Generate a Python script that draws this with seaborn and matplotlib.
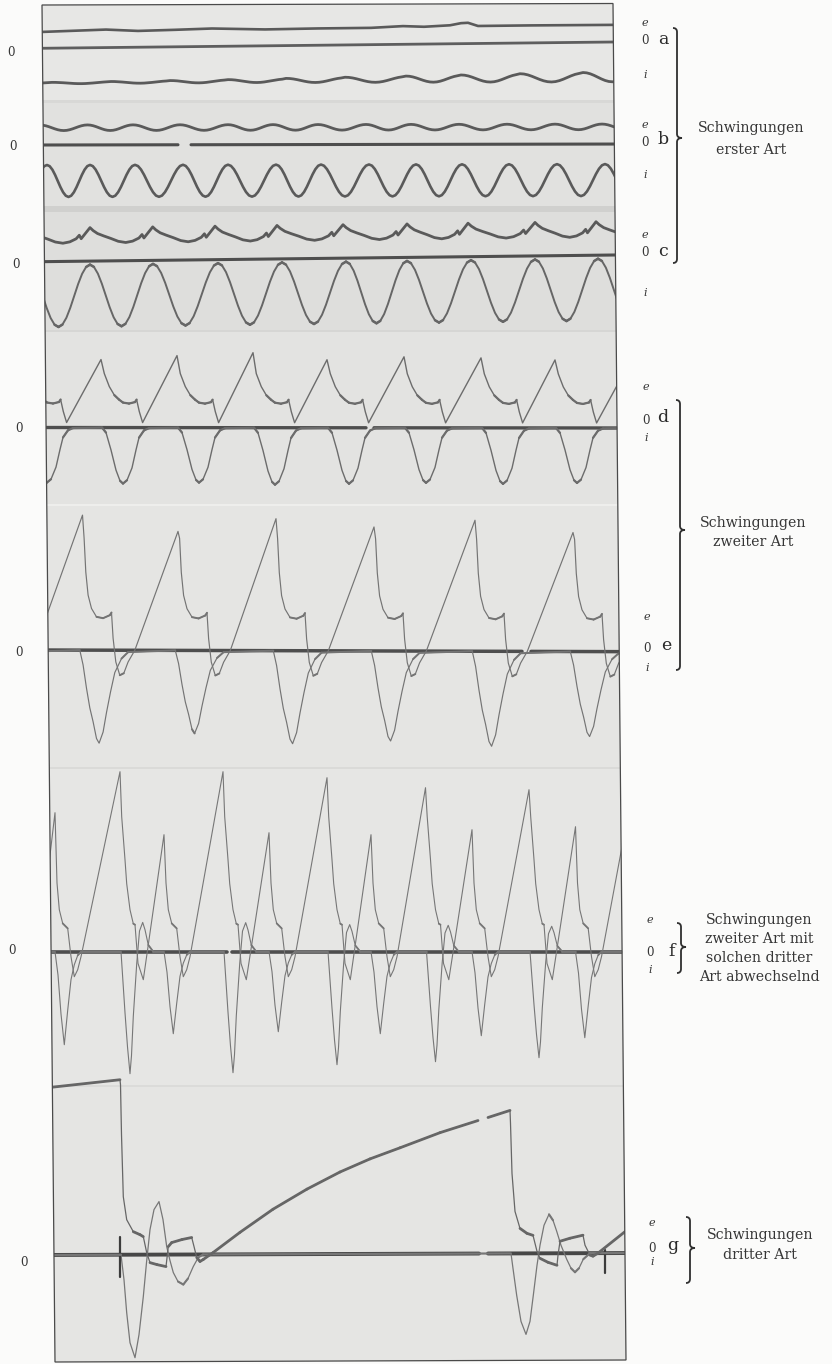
import numpy as np
import pandas as pd
import matplotlib
matplotlib.use("Agg")
import matplotlib.pyplot as plt
from matplotlib.patches import Polygon, PathPatch
from matplotlib.path import Path
from matplotlib.collections import LineCollection
import seaborn as sns

sns.set_theme(style="white")
plt.rcParams["font.family"] = ["DejaVu Serif", "DejaVu Sans"]

# ------------------------------------------------------------------
# Oscillograms a-g: voltage trace (e), zero line (0), current trace (i).
# Deflections are measured upward from each strip's zero line.
# ------------------------------------------------------------------

# sinusoidal cycle profile (peak -> trough -> peak), 16 phases
SINE_F = [k / 16 for k in range(16)]
SINE_V = [1.0, 0.924, 0.707, 0.383, 0.0, -0.383, -0.707, -0.924,
          -1.0, -0.924, -0.707, -0.383, 0.0, 0.383, 0.707, 0.924]

# --- a ---
A_ZERO_X = [40, 640]
A_ZERO_Y = [48.3, 41.7]
A_E_X = [40, 106, 138, 175, 212, 265, 318, 371, 403, 424, 450, 461, 468, 478, 530, 640]
A_E_V = [16.3, 18.0, 16.3, 17.0, 17.9, 16.4, 16.8, 16.8, 18.2, 17.3, 18.5, 20.5, 20.8, 17.5, 17.5, 17.0]
A_I_PEAKS = [-7, 52, 111, 170, 228, 286, 345, 406, 461, 520, 583, 642]
A_I_AMP = [0.6, 0.8, 1.0, 1.3, 1.6, 2.2, 2.7, 3.2, 3.7, 4.3, 4.8, 5.0]
A_I_MID = -35.0

# --- b ---
B_ZERO_X = [40, 640]
B_ZERO_Y = [145.0, 144.0]
B_GAPS = [(178, 191)]
B_E_PEAKS = [40, 87.5, 133, 180, 228, 273, 318, 366, 411, 459, 507, 555, 602, 650]
B_E_AMP = 2.8
B_E_MID = 17.2
B_I_PEAKS = [2, 47, 90, 135, 183, 228, 276, 321, 369, 416, 462, 509, 557, 605, 652]
B_I_AMP = 16.0
B_I_MID = -36.0

# --- c ---
C_ZERO_X = [40, 640]
C_ZERO_Y = [261.7, 254.7]
C_E_PEAKS = [27, 90, 152.7, 215, 277, 343, 407, 468, 535, 596, 660]
C_E_F = [0, 0.05, 0.12, 0.22, 0.33, 0.45, 0.57, 0.68, 0.78, 0.83, 0.86, 0.93]
C_E_V = [33.5, 30.5, 27.5, 25.0, 22.5, 19.5, 18.2, 19.5, 22.5, 26.0, 22.5, 28.0]
C_I_PEAKS = [27, 90, 153, 218, 282, 346, 407, 471, 535, 598, 661]
C_I_AMP = 31.0
C_I_MID = -34.5

# --- d ---
D_ZERO_X = [40, 640]
D_ZERO_Y = [427.5, 428.0]
D_GAPS = [(366, 374)]
D_PEAKS = [25, 101, 177, 253, 327, 404, 481, 555, 631]
D_E_H = [68, 68, 72, 75, 68, 71, 70, 68, 68]
D_E_DX = [3.3, 8.3, 13.3, 18, 22, 28, 34, 35.6, 38.3, 41.6]
D_E_DV = [54, 41, 32.5, 28, 25, 24, 25.5, 28, 16, 5]
D_I_DX = [1, 5, 10, 15, 19, 22, 26, 31, 35, 38, 43, 48]
D_I_DV = [0, -0.09, -0.4, -0.76, -0.95, -1, -0.94, -0.72, -0.4, -0.18, -0.05, -0.01]
D_I_DEPTH = [55, 56, 55, 57, 56, 55, 56, 55, 55]

# --- e ---
E_ZERO_X = [40, 640]
E_ZERO_Y = [650.0, 651.7]
E_GAPS = [(522, 531)]
E_PEAKS = [-18, 82.5, 178, 276, 374, 475, 573, 671]
E_E_H = [130, 135, 119, 132, 124, 131, 119, 125]
E_E_DX = [1.6, 3.3, 5.6, 9, 14, 20.6, 27.3, 29, 30.6, 33.3, 37.3, 41.3, 45.6, 52.3]
E_E_DV = [112, 78, 55, 41.7, 33.3, 32, 35, 37.7, 12, -11.7, -25, -23, -11.7, 0]
E_I_DX = [-2.7, 0.6, 4, 7.3, 10.6, 14, 16.6, 20.6, 24, 28, 32.3, 39, 45.6]
E_I_DV = [0, -0.16, -0.41, -0.62, -0.77, -0.95, -1, -0.88, -0.67, -0.45, -0.24, -0.09, -0.02]
E_I_DEPTH = [90, 93, 83, 93, 90, 95, 85, 90]

# --- f : second-kind (b) and third-kind (s) cycles alternating ---
F_ZERO_X = [40, 640]
F_ZERO_Y = [951.7, 951.7]
F_GAPS = [(227, 232)]
F_PEAKS = [12, 55, 120, 164, 223, 269, 327, 371, 425.5, 472, 529, 575.5, 636]
F_KIND = ["b", "s", "b", "s", "b", "s", "b", "s", "b", "s", "b", "s", "b"]
F_E_H = [180, 139, 180, 117, 180, 119, 174, 117, 164, 122, 162, 125, 180]
F_I_DEPTH = [120, 93, 122, 82, 121, 80, 113, 82, 110, 84, 106, 86, 110]
F_BIG_DX = [1.7, 5, 6.7, 10, 13.3, 15, 18, 23.3]
F_BIG_DV = [135, 92, 68, 42, 28, 27, -11.7, -28]
F_SMALL_DX = [2, 4.3, 7.7, 12.7, 16, 19.3, 22.7, 26]
F_SMALL_DV = [68.7, 42, 28.3, 23.3, -5, -25, -18, -5]
F_BIG_I_DX = [1, 3, 5, 7.5, 10, 11.5, 13.3, 16.7, 19.5, 22.7, 25, 28.3, 33.3]
F_BIG_I_DV = [0, -0.25, -0.5, -0.78, -1, -0.85, -0.53, -0.1, 0.17, 0.24, 0.18, 0.055, 0]
F_SMALL_I_DX = [0, 3, 6, 9.3, 12.7, 16, 19.3, 22.7, 26]
F_SMALL_I_DV = [0, -0.25, -0.67, -1, -0.63, -0.3, -0.14, -0.04, 0]

# --- g : third-kind oscillations ---
G_ZERO_X = [40, 640]
G_ZERO_Y = [1255.0, 1253.0]
G_GAPS = [(479, 488)]
G_E_X = [45, 120, 120.5, 121.5, 123.3, 126.7, 133.3, 140, 143.3, 146.7, 150, 157, 166,
         168.3, 171.7, 182, 191.7, 194, 196.7, 200, 203.3, 213.3, 240, 273, 307, 340,
         370, 400, 440, 478, 488, 510, 510.5, 512, 515, 520, 527, 533, 535, 537, 540,
         548, 557, 558, 560, 570, 583, 585, 588, 590, 593, 598, 627, 645]
G_E_V = [167, 175, 170, 120, 58, 35, 23, 20, 18, 2, -8, -10, -12,
         8, 12, 15, 17, 8, -3, -7, -5, 2, 22, 45, 65, 82,
         95, 106, 121, 133, 136, 143, 130, 80, 42, 25, 20, 18, 10, 2, -5,
         -9, -12, -2, 12, 15, 18, 8, 2, -2, -3, 0, 23, 32]
G_I_X = [45, 120, 121, 124, 126.7, 130, 135, 139, 143.3, 146.5, 150, 154, 159, 163, 166.7,
         170, 173.3, 178, 183.3, 188, 193.3, 198.3, 203, 511, 513, 516.7, 521, 526, 530,
         533.3, 537, 540, 544, 549, 553, 556.7, 561, 566.7, 571, 575, 579, 583.3, 590, 645]
G_I_V = [0, 0, 0, -25, -58, -88, -103, -80, -42, -8, 25, 45, 53, 35, 8,
         -6, -18, -27, -30, -24, -12, -3, 0, 0, -15, -42, -68, -81, -68,
         -42, -12, 8, 28, 39, 33, 22, 8, -6, -15, -19, -15, -6, 0, 0]
G_TICK_X = [120, 605]
G_TICK_TOP = [18, 3]
G_TICK_BOT = [-22, -20]

# --- labels ---
LETTERS = ["a", "b", "c", "d", "e", "f", "g"]
LEFT_ZERO_X = [11, 13, 16, 18.6, 18.6, 12, 24]
LEFT_ZERO_Y = [52, 147, 265, 428, 653, 950, 1262]
RIGHT_X = [645, 645, 645, 646, 647, 650, 652]
RIGHT_E_Y = [23, 125, 235, 387, 617, 920, 1223]
RIGHT_0_Y = [41, 142, 253, 420, 648, 953, 1248]
RIGHT_I_Y = [75, 175, 293, 438, 668, 970, 1262]
LETTER_X = [663, 663, 663, 663, 666, 672, 673]

GROUP_LINES = [["Schwingungen", "erster Art"],
               ["Schwingungen", "zweiter Art"],
               ["Schwingungen", "zweiter Art mit", "solchen dritter", "Art abwechselnd"],
               ["Schwingungen", "dritter Art"]]
GROUP_TEXT_X = [751, 753, 759, 760]
GROUP_TEXT_Y = [[128, 150], [523, 542], [920, 939, 958, 977], [1235, 1255]]
BRACE_X = [677, 680, 681, 690]
BRACE_TOP = [28, 400, 923, 1217]
BRACE_BOT = [263, 670, 973, 1283]
BRACE_TIP = [138, 530, 947, 1248]

# photographic plate: corners and strip boundaries
PLATE = [(42, 5), (613, 3.5), (626, 1360), (55, 1362)]
STRIP_EDGES = [0, 100, 207, 330, 505, 768, 1085, 1364]
STRIP_SHADES = ["#e7e7e5", "#e1e1df", "#dededc", "#e3e3e1", "#e5e5e3", "#e6e6e4", "#e5e5e3"]


# ------------------------------------------------------------------
def cycles(peaks, amp, mid, prof_f, prof_v):
    amps = np.broadcast_to(np.asarray(amp, float), (len(peaks),))
    xs, vs = [], []
    for k in range(len(peaks) - 1):
        p0, p1 = peaks[k], peaks[k + 1]
        for f, v in zip(prof_f, prof_v):
            xs.append(p0 + f * (p1 - p0))
            vs.append(mid + amps[k] * v)
    xs.append(peaks[-1])
    vs.append(mid + amps[-1] * prof_v[0])
    return np.array(xs), np.array(vs)


def events(anchors, heads, dx, dv, scale=None):
    xs, vs = [], []
    for k, p in enumerate(anchors):
        if heads is not None:
            xs.append(p)
            vs.append(heads[k])
        s = 1.0 if scale is None else scale[k]
        xs.extend(p + np.asarray(dx, float))
        vs.extend(s * np.asarray(dv, float))
    return np.array(xs), np.array(vs)


def frame(x, v, zx, zy, gaps=()):
    x = np.asarray(x, float)
    y = np.interp(x, zx, zy) - np.asarray(v, float)
    keep = np.ones(len(x), bool)
    unit = np.zeros(len(x), int)
    for g0, g1 in gaps:
        keep &= ~((x > g0) & (x < g1))
        unit += (x > g0).astype(int)
    return pd.DataFrame({"x": x[keep], "y": y[keep], "u": unit[keep]})


def zero_frame(zx, zy, gaps=()):
    xs = [zx[0], zx[-1]]
    for g0, g1 in gaps:
        xs += [g0, g1]
    xs = np.sort(xs)
    return frame(xs, np.zeros(len(xs)), zx, zy, gaps)


fig = plt.figure(figsize=(8.32, 13.64), dpi=100, facecolor="#fbfbfa")
ax = fig.add_axes([0, 0, 1, 1])
ax.set_facecolor("#fbfbfa")

plate = Polygon(PLATE, closed=True, facecolor="#e4e4e2", edgecolor="none", zorder=1)
ax.add_patch(plate)
for k in range(len(STRIP_SHADES)):
    sp = ax.axhspan(STRIP_EDGES[k], STRIP_EDGES[k + 1], color=STRIP_SHADES[k], lw=0, zorder=1.2)
    sp.set_clip_path(plate)
for yb, c, w in [(101, "#d8d8d6", 3), (209, "#d0d0ce", 6), (331, "#d6d6d4", 2),
                 (505, "#eeeeec", 2), (768, "#dadad8", 2), (1086, "#dbdbd9", 2)]:
    ln = ax.axhline(yb, color=c, lw=w * 0.72, zorder=1.3)
    ln.set_clip_path(plate)


def draw(df, color, lw, z=3, slow_lw=None):
    n0 = len(ax.lines)
    sns.lineplot(data=df, x="x", y="y", units="u", estimator=None, sort=False,
                 color=color, linewidth=lw, ax=ax, legend=False)
    for ln in ax.lines[n0:]:
        ln.set_clip_path(plate)
        ln.set_zorder(z)
        ln.set_solid_joinstyle("round")
    if slow_lw is None:
        return
    # slowly moving parts of a trace expose the plate longer and print heavier
    segs = []
    for _, g in df.groupby("u"):
        xy = g[["x", "y"]].to_numpy()
        for p0, p1 in zip(xy[:-1], xy[1:]):
            dx = abs(p1[0] - p0[0])
            dy = abs(p1[1] - p0[1])
            if dy <= 1.6 * max(dx, 1e-6):
                segs.append([p0, p1])
    if segs:
        lc = LineCollection(segs, colors=color, linewidths=slow_lw, zorder=z + 0.1,
                            capstyle="round")
        ax.add_collection(lc)
        lc.set_clip_path(plate)


ZCOL = "#4e4e4e"
THICK = "#5a5a5a"

# a
draw(zero_frame(A_ZERO_X, A_ZERO_Y), "#5e5e5e", 2.0)
draw(frame(A_E_X, A_E_V, A_ZERO_X, A_ZERO_Y), THICK, 1.9)
x, v = cycles(A_I_PEAKS, A_I_AMP, A_I_MID, SINE_F, SINE_V)
draw(frame(x, v, A_ZERO_X, A_ZERO_Y), THICK, 2.0)

# b
draw(zero_frame(B_ZERO_X, B_ZERO_Y, B_GAPS), ZCOL, 2.2)
x, v = cycles(B_E_PEAKS, B_E_AMP, B_E_MID, SINE_F, SINE_V)
draw(frame(x, v, B_ZERO_X, B_ZERO_Y), THICK, 2.0)
x, v = cycles(B_I_PEAKS, B_I_AMP, B_I_MID, SINE_F, SINE_V)
draw(frame(x, v, B_ZERO_X, B_ZERO_Y), THICK, 1.9)

# c
draw(zero_frame(C_ZERO_X, C_ZERO_Y), ZCOL, 2.2)
x, v = cycles(C_E_PEAKS, 1.0, 0.0, C_E_F, C_E_V)
draw(frame(x, v, C_ZERO_X, C_ZERO_Y), THICK, 2.0)
x, v = cycles(C_I_PEAKS, C_I_AMP, C_I_MID, SINE_F, SINE_V)
draw(frame(x, v, C_ZERO_X, C_ZERO_Y), "#666666", 1.4, slow_lw=1.8)

# d
draw(zero_frame(D_ZERO_X, D_ZERO_Y, D_GAPS), ZCOL, 2.4)
x, v = events(D_PEAKS, D_E_H, D_E_DX, D_E_DV)
draw(frame(x, v, D_ZERO_X, D_ZERO_Y), "#6c6c6c", 1.0, slow_lw=1.6)
x, v = events(D_PEAKS, None, D_I_DX, D_I_DV, D_I_DEPTH)
draw(frame(x, v, D_ZERO_X, D_ZERO_Y), "#6c6c6c", 1.0, slow_lw=1.6)

# e
draw(zero_frame(E_ZERO_X, E_ZERO_Y, E_GAPS), ZCOL, 2.5)
x, v = events(E_PEAKS, E_E_H, E_E_DX, E_E_DV)
draw(frame(x, v, E_ZERO_X, E_ZERO_Y), "#747474", 0.85, slow_lw=1.4)
x, v = events(E_PEAKS, None, E_I_DX, E_I_DV, E_I_DEPTH)
draw(frame(x, v, E_ZERO_X, E_ZERO_Y), "#747474", 0.85, slow_lw=1.4)

# f
draw(zero_frame(F_ZERO_X, F_ZERO_Y, F_GAPS), ZCOL, 2.6)
fex, fev, fix, fiv = [], [], [], []
for p, kind, h, dep in zip(F_PEAKS, F_KIND, F_E_H, F_I_DEPTH):
    edx, edv = (F_BIG_DX, F_BIG_DV) if kind == "b" else (F_SMALL_DX, F_SMALL_DV)
    idx, idv = (F_BIG_I_DX, F_BIG_I_DV) if kind == "b" else (F_SMALL_I_DX, F_SMALL_I_DV)
    x, v = events([p], [h], edx, edv)
    fex += list(x); fev += list(v)
    x, v = events([p], None, idx, idv, [dep])
    fix += list(x); fiv += list(v)
draw(frame(fex, fev, F_ZERO_X, F_ZERO_Y), "#777777", 0.8, slow_lw=1.3)
draw(frame(fix, fiv, F_ZERO_X, F_ZERO_Y), "#777777", 0.8, slow_lw=1.3)

# g
draw(zero_frame(G_ZERO_X, G_ZERO_Y, G_GAPS), "#474747", 2.8)
draw(frame(G_I_X, G_I_V, G_ZERO_X, G_ZERO_Y), "#777777", 0.9, slow_lw=1.5)
draw(frame(G_E_X, G_E_V, G_ZERO_X, G_ZERO_Y, G_GAPS), "#666666", 0.9, slow_lw=2.0)
tick_rows = []
for k, (tx, t0, t1) in enumerate(zip(G_TICK_X, G_TICK_TOP, G_TICK_BOT)):
    tf = frame([tx, tx], [t0, t1], G_ZERO_X, G_ZERO_Y)
    tf["u"] = k
    tick_rows.append(tf)
draw(pd.concat(tick_rows), "#3c3c3c", 1.6)

# plate outline
ax.add_patch(Polygon(PLATE, closed=True, facecolor="none", edgecolor="#4a4a4a", lw=0.9, zorder=6))

# ---- labels ----
TXT = "#363636"
for k, letter in enumerate(LETTERS):
    ax.text(LEFT_ZERO_X[k], LEFT_ZERO_Y[k], "0", fontsize=8.5, color=TXT, ha="center", va="center")
    ax.text(RIGHT_X[k], RIGHT_E_Y[k], "e", fontsize=8, style="italic", color=TXT, ha="center", va="center")
    ax.text(RIGHT_X[k], RIGHT_0_Y[k], "0", fontsize=8.5, color=TXT, ha="center", va="center")
    ax.text(RIGHT_X[k], RIGHT_I_Y[k], "i", fontsize=8, style="italic", color=TXT, ha="center", va="center")
    ax.text(LETTER_X[k], RIGHT_0_Y[k] - 2, letter, fontsize=12.5, color="#2a2a2a", ha="center", va="center")


def brace(xb, y0, y1, ym, w=4.0, tip=5.0):
    verts = [(xb - w, y0), (xb, y0), (xb, y0 + w),
             (xb, ym - w), (xb, ym), (xb + tip, ym),
             (xb, ym), (xb, ym + w),
             (xb, y1 - w), (xb, y1), (xb - w, y1)]
    codes = [Path.MOVETO, Path.CURVE3, Path.CURVE3,
             Path.LINETO, Path.CURVE3, Path.CURVE3,
             Path.CURVE3, Path.CURVE3,
             Path.LINETO, Path.CURVE3, Path.CURVE3]
    ax.add_patch(PathPatch(Path(verts, codes), facecolor="none", edgecolor="#2f2f2f", lw=1.3, zorder=6))


for k, lines in enumerate(GROUP_LINES):
    brace(BRACE_X[k], BRACE_TOP[k], BRACE_BOT[k], BRACE_TIP[k])
    for txt, ty in zip(lines, GROUP_TEXT_Y[k]):
        ax.text(GROUP_TEXT_X[k], ty, txt, fontsize=10.2, color=TXT, ha="center", va="center")

ax.set_xlim(0, 832)
ax.set_ylim(1364, 0)
ax.axis("off")
fig.savefig("out.png", dpi=100, facecolor=fig.get_facecolor())
